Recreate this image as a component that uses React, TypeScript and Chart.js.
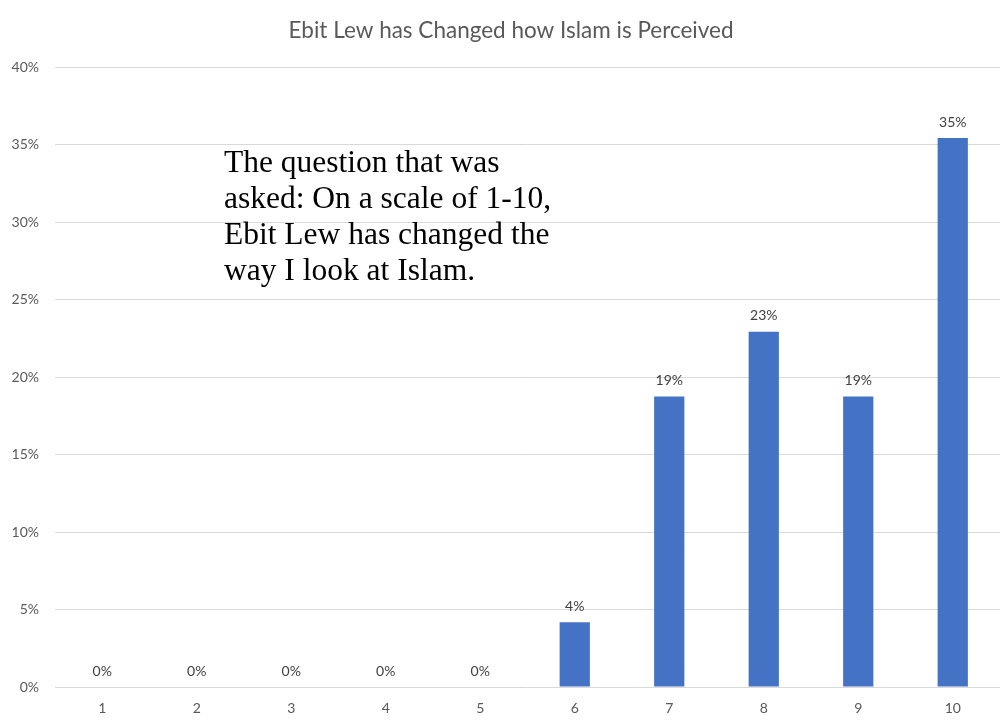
import React, { useEffect, useRef } from "react";
import { Chart, registerables } from "chart.js";

Chart.register(...registerables);

// Rating scale answered by respondents
const categories: string[] = ["1", "2", "3", "4", "5", "6", "7", "8", "9", "10"];
// Share of respondents per rating, in percent
const shares: number[] = [0, 0, 0, 0, 0, 4.17, 18.75, 22.92, 18.75, 35.42];
// Value-axis settings
const yMax = 40;
const yStep = 5;

const chartTitle = "Ebit Lew has Changed how Islam is Perceived";
const noteLines: string[] = [
  "The question that was",
  "asked: On a scale of 1-10,",
  "Ebit Lew has changed the",
  "way I look at Islam.",
];

const W = 1004;
const H = 722;
const SANS = "Lato, 'Open Sans', sans-serif";

// Heading drawn in the band reserved above the plot
const heading = {
  id: "heading",
  afterDraw(chart: any) {
    const ctx = chart.ctx;
    ctx.save();
    ctx.font = `22.5px ${SANS}`;
    ctx.fillStyle = "#595959";
    ctx.textAlign = "center";
    ctx.textBaseline = "middle";
    ctx.fillText(chartTitle, 511, 31);
    ctx.restore();
  },
};

// Percent labels written above every bar
const barLabels = {
  id: "barLabels",
  afterDatasetsDraw(chart: any) {
    const ctx = chart.ctx;
    const meta = chart.getDatasetMeta(0);
    ctx.save();
    ctx.font = `14px ${SANS}`;
    ctx.fillStyle = "#404040";
    ctx.textAlign = "center";
    ctx.textBaseline = "middle";
    meta.data.forEach((bar: any, i: number) => {
      ctx.fillText(Math.round(shares[i]) + "%", bar.x, bar.y - 16);
    });
    ctx.restore();
  },
};

// Free-standing note placed inside the plot
const questionNote = {
  id: "questionNote",
  afterDraw(chart: any) {
    const ctx = chart.ctx;
    ctx.save();
    ctx.font = "31.5px 'Liberation Serif', 'Times New Roman', serif";
    ctx.fillStyle = "#000000";
    ctx.textAlign = "left";
    ctx.textBaseline = "alphabetic";
    noteLines.forEach((line, i) => {
      ctx.fillText(line, 224, 172 + i * 36);
    });
    ctx.restore();
  },
};

export default function App() {
  const canvasRef = useRef<HTMLCanvasElement | null>(null);

  useEffect(() => {
    const canvas = canvasRef.current;
    if (!canvas) return;
    const chart = new Chart(canvas, {
      type: "bar",
      data: {
        labels: categories,
        datasets: [
          {
            data: shares,
            backgroundColor: "#4472c4",
            borderWidth: 0,
            barPercentage: 0.32,
            categoryPercentage: 1,
          },
        ],
      },
      options: {
        responsive: false,
        animation: false,
        layout: { padding: { left: 0, right: 4, top: 67, bottom: 0 } },
        plugins: {
          legend: { display: false },
          tooltip: { enabled: false },
          title: { display: false },
        },
        scales: {
          x: {
            grid: { display: false, drawTicks: false },
            border: { display: false },
            ticks: {
              color: "#595959",
              font: { family: SANS, size: 14 },
              padding: 13,
            },
            afterFit: (axis: any) => {
              axis.height = 35;
            },
          },
          y: {
            min: 0,
            max: yMax,
            grid: { color: "#d9d9d9", lineWidth: 1, drawTicks: false },
            border: { display: false },
            ticks: {
              stepSize: yStep,
              color: "#595959",
              font: { family: SANS, size: 14 },
              padding: 16,
              callback: (v: any) => v + "%",
            },
            afterFit: (axis: any) => {
              axis.width = 55;
            },
          },
        },
      },
      plugins: [heading, barLabels, questionNote],
    });
    return () => chart.destroy();
  }, []);

  return (
    <div
      style={{
        position: "fixed",
        left: 0,
        top: 0,
        width: W,
        height: H,
        background: "#ffffff",
      }}
    >
      <canvas ref={canvasRef} width={W} height={H} />
    </div>
  );
}
